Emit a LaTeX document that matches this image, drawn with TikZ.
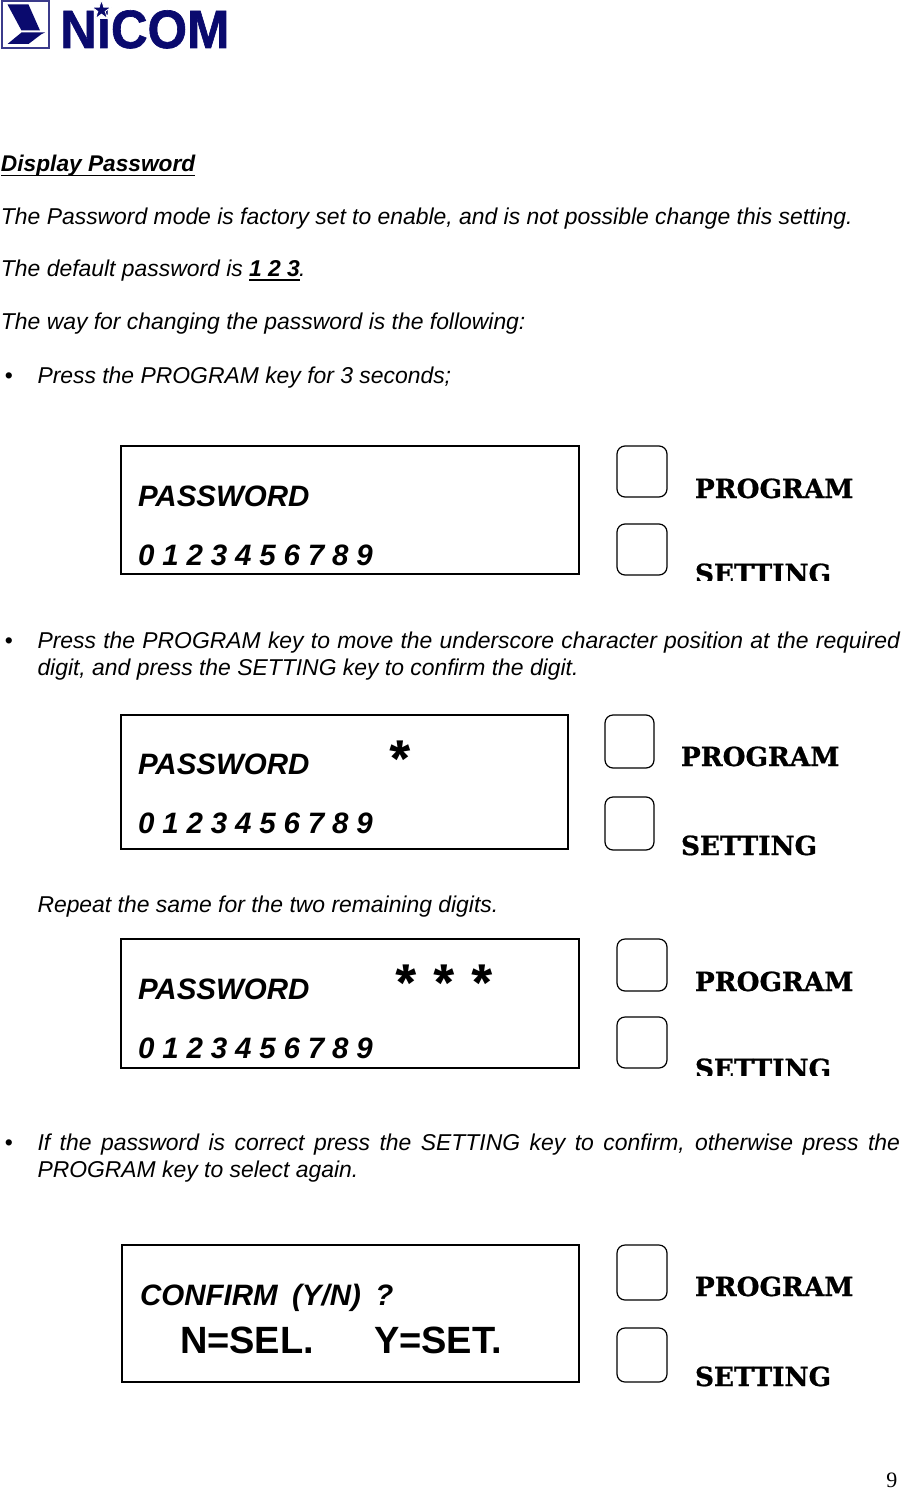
\documentclass[tikz,border=0pt]{standalone}
\usepackage{fontspec}
\setmainfont{Liberation Sans}
\newfontfamily\logofont[BoldFeatures={FakeBold=1.2}]{Liberation Sans}
\newfontfamily\keyfont[BoldFeatures={FakeBold=0.8}]{DejaVu Serif}
\newfontfamily\starfont{Liberation Serif}
\newfontfamily\astfont{Fira Sans}
\definecolor{nicom}{HTML}{0A0A6E}
\tikzset{
  x=1pt,y=-1pt,
  txt/.style={anchor=base west,inner sep=0pt,outer sep=0pt,font=\fontsize{22.9}{27}\selectfont\itshape,text=black},
  lcd/.style={anchor=base west,inner sep=0pt,outer sep=0pt,font=\fontsize{29.5}{32}\selectfont\bfseries\itshape},
  big/.style={anchor=base west,inner sep=0pt,outer sep=0pt,font=\fontsize{38}{40}\selectfont\bfseries},
  keylab/.style={anchor=base west,inner sep=0pt,outer sep=0pt,font=\fontsize{26.3}{28}\selectfont\keyfont\bfseries},
  star/.style={anchor=center,inner sep=0pt,outer sep=0pt,font=\fontsize{48}{48}\selectfont\astfont\bfseries},
  panel/.style={draw=black,line width=1.5pt},
  keybox/.style={draw=black,line width=1.2pt,rounded corners=8pt},
  bul/.style={anchor=base west,inner sep=0pt,outer sep=0pt,font=\fontsize{23}{27}\selectfont},
  rul/.style={draw=black,line width=1.6pt}
}
\newcommand\digitrow{\spaceskip=7.87pt\relax 0 1 2 3 4 5 6 7 8 9}
\begin{document}
\begin{tikzpicture}
\useasboundingbox[fill=white] (0,0) rectangle (900,1490);
% logo
\draw[draw=nicom!80,line width=1.2pt] (2,1) rectangle (49,48);
\fill[nicom] (7.5,4.5) -- (28.5,4.5) -- (40,30.5) -- (21.5,30.5) -- cycle;
\fill[nicom] (21.5,32.5) -- (45,32.5) -- (41,34.5) -- (28.5,44) -- (7.5,44) -- cycle;
\node[anchor=base west,inner sep=0pt,font=\fontsize{54}{54}\selectfont\logofont\bfseries,text=nicom,xscale=.94,transform shape] (logo) at (60,48) {NiCOM};
\fill[nicom,draw=white,line width=.8pt] (101.5,0)
  -- (103.8,7.2) -- (111,7.2) -- (105.2,11.4) -- (107.4,18.5) -- (101.5,14.2)
  -- (95.6,18.5) -- (97.8,11.4) -- (92,7.2) -- (99.2,7.2) -- cycle;
% text
\node[txt,font=\fontsize{22.7}{27}\selectfont\bfseries\itshape] (t1) at (1,172) {Display Password};
\draw[rul] ([yshift=-3.5pt]t1.base west) -- ([yshift=-3.5pt]t1.base east);
\node[txt] (t2) at (1,224) {The Password mode is factory set to enable, and is not possible change this setting.};
\node[txt] (t3) at (1,276) {The default password is};
\node[txt,font=\fontsize{22.9}{27}\selectfont\bfseries\itshape] (t3b) at (249,276) {1 2 3};
\draw[rul,line width=2pt] ([yshift=-4pt]t3b.base west) -- ([yshift=-4pt]t3b.base east);
\node[txt] (t3c) at (299,276) {.};
\node[txt] (t4) at (1,329) {The way for changing the password is the following:};
\node[bul] (b1) at (5,383) {•};
\node[txt] (t5) at (37.5,383) {Press the PROGRAM key for 3 seconds;};
\node[bul] (b2) at (5,648) {•};
\node[txt] (t6) at (37.5,648) {\makebox[862.5pt][s]{Press the PROGRAM key to move the underscore character position at the required}};
\node[txt] (t7) at (37.5,675) {digit, and press the SETTING key to confirm the digit.};
\node[txt] (t8) at (37.5,912) {Repeat the same for the two remaining digits.};
\node[bul] (b3) at (5,1150) {•};
\node[txt] (t9) at (37.5,1150) {\makebox[862.5pt][s]{If the password is correct press the SETTING key to confirm, otherwise press the}};
\node[txt] (t10) at (37.5,1177) {PROGRAM key to select again.};
% panel 1
\draw[panel] (121,446) rectangle (579,574);
\node[lcd] (p1a) at (138,506) {PASSWORD};
\node[lcd] (p1b) at (138,565) {\digitrow};
\draw[keybox] (617,446) rectangle (667,497);
\draw[keybox] (617,524) rectangle (667,575);
\begin{scope}
\clip (690,470) rectangle (860,498);
\node[keylab] (k1a) at (695,498) {PROGRAM};
\end{scope}
\begin{scope}
\clip (690,555) rectangle (860,580);
\node[keylab] (k1b) at (695,583) {SETTING};
\end{scope}
% panel 2
\draw[panel] (121,715) rectangle (568,849);
\node[lcd] (p2a) at (138,774) {PASSWORD};
\node[lcd] (p2b) at (138,833) {\digitrow};
\node[star] (s2) at (400,759) {*};
\draw[keybox] (605,715) rectangle (654,768);
\draw[keybox] (605,797) rectangle (654,850);
\node[keylab] (k2a) at (681,766) {PROGRAM};
\node[keylab] (k2b) at (681,855) {SETTING};
% panel 3
\draw[panel] (121,939) rectangle (579,1068);
\node[lcd] (p3a) at (138,999) {PASSWORD};
\node[lcd] (p3b) at (138,1058) {\digitrow};
\node[star] (s3a) at (406,983) {*};
\node[star] (s3b) at (444,983) {*};
\node[star] (s3c) at (482,983) {*};
\draw[keybox] (617,939) rectangle (667,991);
\draw[keybox] (617,1017) rectangle (667,1068);
\begin{scope}
\clip (690,960) rectangle (860,991);
\node[keylab] (k3a) at (695,991) {PROGRAM};
\end{scope}
\begin{scope}
\clip (690,1045) rectangle (860,1075);
\node[keylab] (k3b) at (695,1078) {SETTING};
\end{scope}
% panel 4
\draw[panel] (122,1245) rectangle (579,1382);
\node[lcd] (p4a) at (140,1305) {CONFIRM\hspace{14.5pt}(Y/N)\hspace{14.5pt}?};
\node[big] (p4b) at (180,1353) {N=SEL.};
\node[big] (p4c) at (374,1353) {Y=SET.};
\draw[keybox] (617,1245) rectangle (667,1300);
\draw[keybox] (617,1328) rectangle (667,1382);
\node[keylab] (k4a) at (695,1296) {PROGRAM};
\node[keylab] (k4b) at (695,1386) {SETTING};
% page number
\node[anchor=base east,inner sep=0pt,font=\fontsize{22}{27}\selectfont\starfont] (pg) at (897.5,1487) {9};
\end{tikzpicture}
\end{document}
